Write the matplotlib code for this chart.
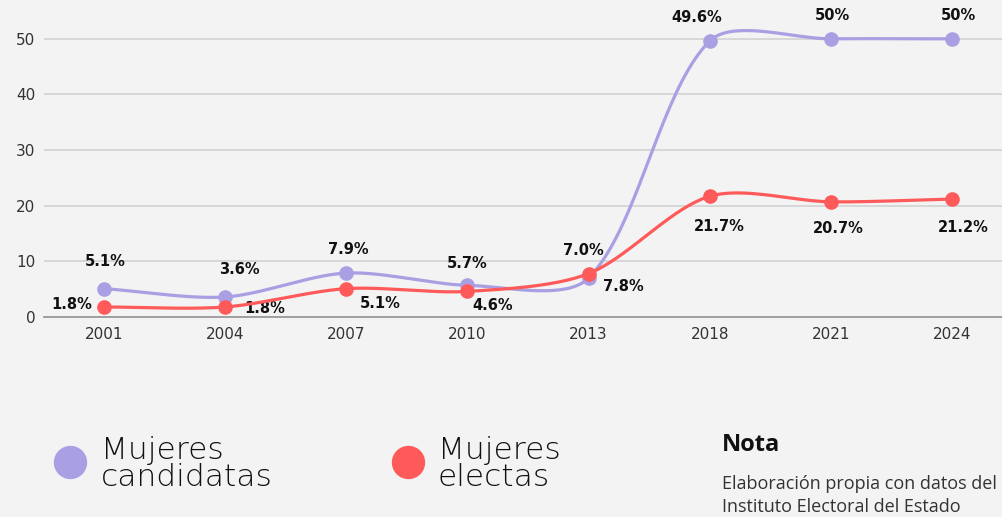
import numpy as np
import matplotlib.pyplot as plt
from matplotlib.lines import Line2D

years = ["2001", "2004", "2007", "2010", "2013", "2018", "2021", "2024"]
candidatas = [5.1, 3.6, 7.9, 5.7, 7.0, 49.6, 50.0, 50.0]
electas = [1.8, 1.8, 5.1, 4.6, 7.8, 21.7, 20.7, 21.2]
cand_labels = ["5.1%", "3.6%", "7.9%", "5.7%", "7.0%", "49.6%", "50%", "50%"]
elec_labels = ["1.8%", "1.8%", "5.1%", "4.6%", "7.8%", "21.7%", "20.7%", "21.2%"]

# label offsets in pixels (dx, dy)
cand_off = [(1, 27), (14, 27), (2, 24), (0, 22), (-5, 28), (-13, 24), (2, 23), (6, 23)]
elec_off = [(-32, 2), (40, -2), (34, -15), (25, -14), (35, -13), (10, -30), (7, -27), (11, -28)]

PURPLE = "#a99fe3"
RED = "#ff5a5a"
BG = "#f3f3f3"

W, H = 1003, 517
fig = plt.figure(figsize=(W / 100, H / 100), dpi=100, facecolor=BG)
ax = fig.add_axes([43.5 / W, (H - 317) / H, 969 / W, 306 / H])
ax.set_facecolor(BG)
ax.set_xlim(-0.5, 7.5)
ax.set_ylim(0, 55)

# pixel scale for the smooth (chart.js style) spline
sx = 969 / 8.0
sy = 306 / 55.0


def spline(vals, tension=0.3, n=40):
    px = np.arange(len(vals)) * sx
    py = np.array(vals) * sy
    cp_prev, cp_next = [], []
    for i in range(len(vals)):
        p0 = (px[max(i - 1, 0)], py[max(i - 1, 0)])
        p1 = (px[i], py[i])
        p2 = (px[min(i + 1, len(vals) - 1)], py[min(i + 1, len(vals) - 1)])
        d01 = np.hypot(p1[0] - p0[0], p1[1] - p0[1])
        d12 = np.hypot(p2[0] - p1[0], p2[1] - p1[1])
        tot = d01 + d12 if d01 + d12 > 0 else 1
        fa = tension * d01 / tot
        fb = tension * d12 / tot
        cp_prev.append((p1[0] - fa * (p2[0] - p0[0]), p1[1] - fa * (p2[1] - p0[1])))
        cp_next.append((p1[0] + fb * (p2[0] - p0[0]), p1[1] + fb * (p2[1] - p0[1])))
    xs, ys = [], []
    t = np.linspace(0, 1, n)
    for i in range(len(vals) - 1):
        a = (px[i], py[i])
        b = cp_next[i]
        c = cp_prev[i + 1]
        d = (px[i + 1], py[i + 1])
        bx = (1 - t) ** 3 * a[0] + 3 * (1 - t) ** 2 * t * b[0] + 3 * (1 - t) * t ** 2 * c[0] + t ** 3 * d[0]
        by = (1 - t) ** 3 * a[1] + 3 * (1 - t) ** 2 * t * b[1] + 3 * (1 - t) * t ** 2 * c[1] + t ** 3 * d[1]
        xs.extend(bx / sx)
        ys.extend(by / sy)
    return np.array(xs), np.array(ys)


x = np.arange(len(years))
for vals, col, z in [(candidatas, PURPLE, 3), (electas, RED, 4)]:
    sxs, sys_ = spline(vals)
    ax.plot(sxs, sys_, color=col, lw=2.3, zorder=z, solid_capstyle="round")
    ax.plot(x, vals, "o", color=col, ms=9.5, zorder=z, clip_on=False)

for i in range(len(years)):
    ax.annotate(cand_labels[i], (x[i], candidatas[i]), xytext=cand_off[i],
                textcoords="offset pixels", ha="center", va="center",
                fontsize=10.5, fontweight="bold", color="#111111", annotation_clip=False)
    ax.annotate(elec_labels[i], (x[i], electas[i]), xytext=elec_off[i],
                textcoords="offset pixels", ha="center", va="center",
                fontsize=10.5, fontweight="bold", color="#111111", annotation_clip=False)

ax.set_xticks(x)
ax.set_xticklabels(years)
ax.set_yticks([0, 10, 20, 30, 40, 50])
ax.tick_params(length=0, labelsize=11, colors="#333333", pad=6)
ax.tick_params(axis="x", pad=7)
ax.grid(axis="y", color="#d4d4d4", lw=1.3)
ax.set_axisbelow(True)
for s in ["top", "right", "left"]:
    ax.spines[s].set_visible(False)
ax.spines["bottom"].set_color("#999999")
ax.spines["bottom"].set_linewidth(1.3)

# legend
fig.add_artist(Line2D([70 / W], [1 - 462 / H], marker="o", ms=23, color=PURPLE,
                      transform=fig.transFigure))
fig.add_artist(Line2D([408 / W], [1 - 462 / H], marker="o", ms=23, color=RED,
                      transform=fig.transFigure))
leg_font = dict(fontsize=22.5, fontweight="light", family="DejaVu Sans", color="#111111",
                va="center", ha="left", linespacing=0.9)
fig.text(101 / W, 1 - 464 / H, "Mujeres\ncandidatas", **leg_font)
fig.text(438 / W, 1 - 464 / H, "Mujeres\nelectas", **leg_font)

fig.text(722 / W, 1 - 445 / H, "Nota", fontsize=17, fontweight="bold",
         family="Open Sans", color="#111111", va="center", ha="left")
fig.text(722 / W, 1 - 484 / H, "Elaboración propia con datos del", fontsize=13,
         family="Open Sans", color="#333333", va="center", ha="left")
fig.text(722 / W, 1 - 507 / H, "Instituto Electoral del Estado", fontsize=13,
         family="Open Sans", color="#333333", va="center", ha="left")

fig.savefig("out.png", dpi=100, facecolor=BG)
